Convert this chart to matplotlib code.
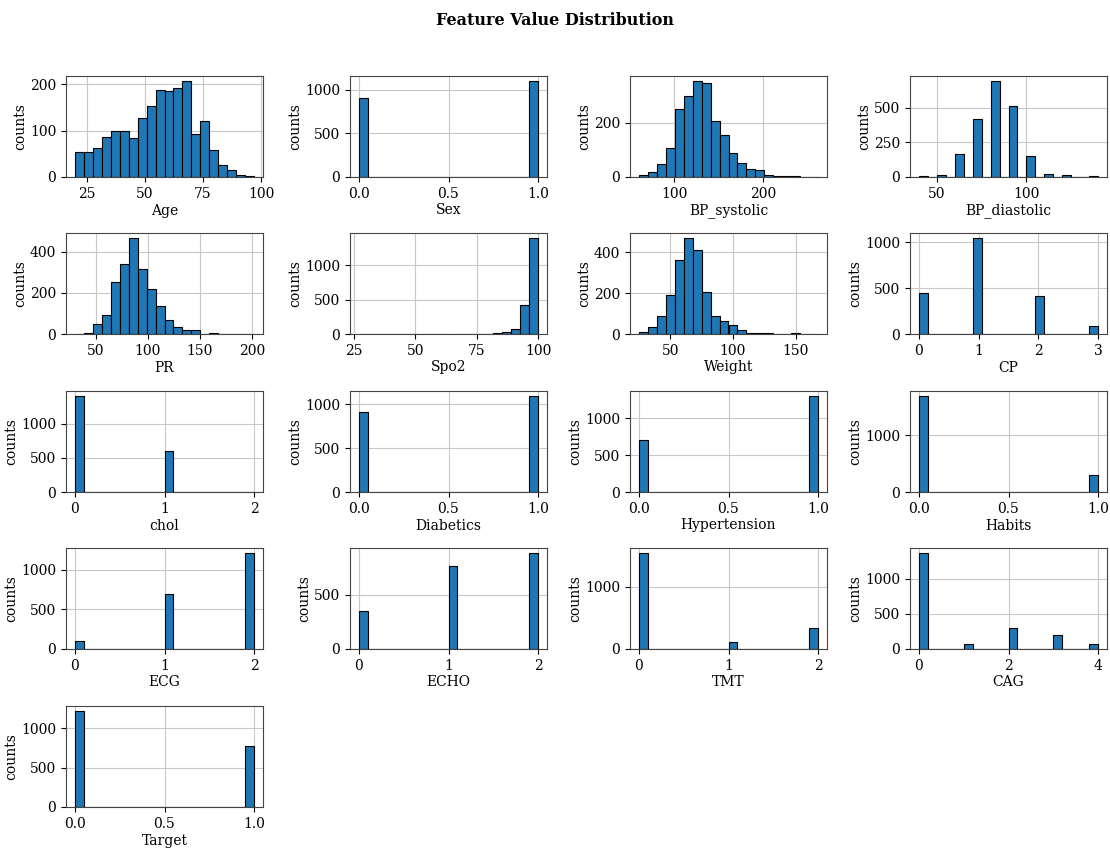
import numpy as np
import matplotlib
matplotlib.use("Agg")
import matplotlib.pyplot as plt

###########################################################################
# Data (20 bins per feature)
###########################################################################
# continuous features: counts per bin over (lo, hi)
age_range = (20, 97)
age_counts = [53, 53, 62, 86, 98, 98, 83, 128, 152, 188,
              184, 191, 207, 93, 121, 58, 26, 14, 4, 2]
bps_range = (60, 262)
bps_counts = [9, 19, 48, 106, 252, 300, 356, 348, 206, 156,
              88, 50, 31, 25, 6, 3, 3, 2, 0, 1]
bpd_range = (40, 140)
bpd_counts = [5, 0, 17, 0, 165, 0, 415, 0, 693, 0,
              514, 0, 152, 0, 25, 0, 12, 0, 0, 5]
pr_range = (30, 202)
pr_counts = [2, 7, 49, 93, 252, 338, 467, 317, 220, 138,
             70, 33, 21, 20, 2, 7, 2, 0, 1, 2]
spo2_range = (27, 100)
spo2_counts = [4, 0, 0, 0, 0, 0, 0, 3, 0, 0,
               2, 3, 3, 4, 6, 12, 30, 75, 420, 1400]
weight_range = (25, 168)
weight_counts = [12, 33, 87, 193, 365, 472, 410, 206, 90, 66,
                 42, 20, 4, 5, 3, 2, 1, 3, 1, 2]

# discrete features: value -> count
sex_values, sex_counts = [0, 1], [903, 1105]
cp_values, cp_counts = [0, 1, 2, 3], [450, 1050, 420, 85]
chol_values, chol_counts = [0, 1, 2], [1405, 595, 5]
diab_values, diab_counts = [0, 1], [910, 1095]
hyp_values, hyp_counts = [0, 1], [705, 1300]
habits_values, habits_counts = [0, 1], [1700, 305]
ecg_values, ecg_counts = [0, 1, 2], [95, 700, 1215]
echo_values, echo_counts = [0, 1, 2], [350, 765, 890]
tmt_values, tmt_counts = [0, 1, 2], [1550, 115, 345]
cag_values, cag_counts = [0, 1, 2, 3, 4], [1370, 70, 300, 205, 75]
target_values, target_counts = [0, 1], [1225, 780]

n_bins = 20

def centers(rng):
    edges = np.linspace(rng[0], rng[1], n_bins + 1)
    return (edges[:-1] + edges[1:]) / 2

features = [
    ("Age", centers(age_range), age_counts, age_range),
    ("Sex", sex_values, sex_counts, (0, 1)),
    ("BP_systolic", centers(bps_range), bps_counts, bps_range),
    ("BP_diastolic", centers(bpd_range), bpd_counts, bpd_range),
    ("PR", centers(pr_range), pr_counts, pr_range),
    ("Spo2", centers(spo2_range), spo2_counts, spo2_range),
    ("Weight", centers(weight_range), weight_counts, weight_range),
    ("CP", cp_values, cp_counts, (0, 3)),
    ("chol", chol_values, chol_counts, (0, 2)),
    ("Diabetics", diab_values, diab_counts, (0, 1)),
    ("Hypertension", hyp_values, hyp_counts, (0, 1)),
    ("Habits", habits_values, habits_counts, (0, 1)),
    ("ECG", ecg_values, ecg_counts, (0, 2)),
    ("ECHO", echo_values, echo_counts, (0, 2)),
    ("TMT", tmt_values, tmt_counts, (0, 2)),
    ("CAG", cag_values, cag_counts, (0, 4)),
    ("Target", target_values, target_counts, (0, 1)),
]

###########################################################################
# Plot
###########################################################################
plt.rcParams['font.family'] = ['DejaVu Serif']
plt.rcParams['font.size'] = 10

W, H = 1110, 850
fig = plt.figure(figsize=(W / 100, H / 100), dpi=100)

col_left = [66, 350, 630, 910]
row_top = [76, 233, 391, 548, 706]
ax_w, ax_h = 197, 101

for i, (name, vals, cnts, rng) in enumerate(features):
    r, c = divmod(i, 4)
    ax = fig.add_axes([col_left[c] / W, 1 - (row_top[r] + ax_h) / H,
                       ax_w / W, ax_h / H])
    ax.hist(vals, bins=n_bins, range=rng, weights=cnts,
            color='#1f77b4', edgecolor='black', linewidth=0.8)
    ax.set_axisbelow(True)
    ax.grid(True, color='#c8c8c8', linewidth=0.8)
    ax.set_xlabel(name, labelpad=2)
    ax.set_ylabel('counts', labelpad=2)
    for s in ax.spines.values():
        s.set_color('#444444')

fig.suptitle('Feature Value Distribution', fontweight='bold', fontsize=11.5, y=0.986)
fig.savefig('out.png', dpi=100)
